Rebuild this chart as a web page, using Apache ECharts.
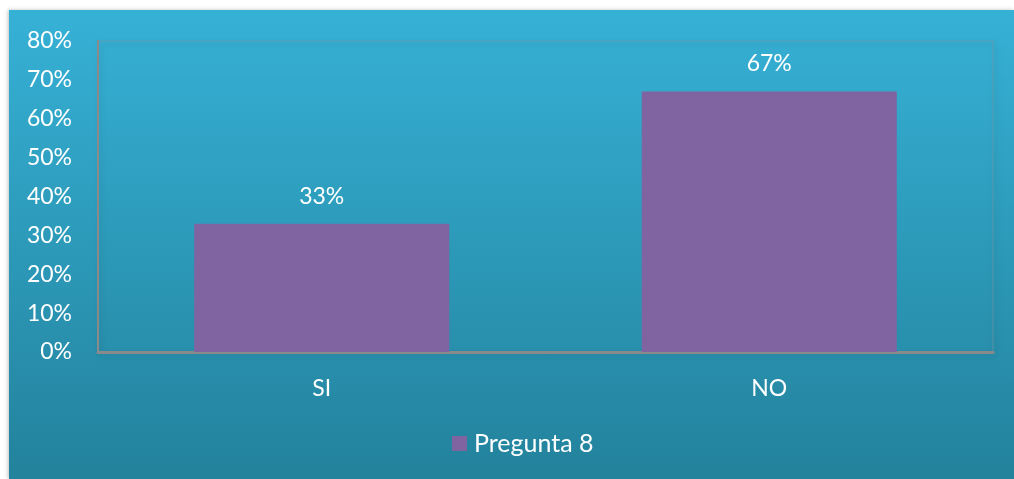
<!DOCTYPE html>
<html>
<head>
<meta charset="utf-8">
<script src="https://cdn.jsdelivr.net/npm/echarts@6/dist/echarts.min.js"></script>
<style>
html,body{margin:0;padding:0;background:#fff;}
#chart{width:1014px;height:479px;}
</style>
</head>
<body>
<div id="chart"></div>
<script>
var categories = ['SI', 'NO'];
var seriesName = 'Pregunta 8';
var values = [33, 67];
var yTicks = [0, 10, 20, 30, 40, 50, 60, 70, 80];

var chart = echarts.init(document.getElementById('chart'));
var font = 'Lato, "Open Sans", sans-serif';

var option = {
    animation: false,
    textStyle: {fontFamily: font},
    graphic: [{
        type: 'rect',
        z: -10,
        shape: {x: 9, y: 10, width: 1005, height: 469},
        style: {
            fill: new echarts.graphic.LinearGradient(0, 0, 0, 1, [
                {offset: 0, color: '#36b1d6'},
                {offset: 1, color: '#23829c'}
            ]),
            shadowBlur: 4,
            shadowColor: 'rgba(0,0,0,0.25)',
            shadowOffsetX: -1
        }
    }],
    grid: {
        left: 98, top: 41, right: 21, bottom: 127,
        show: true,
        borderColor: 'rgba(120,150,165,0.6)',
        borderWidth: 1,
        backgroundColor: 'rgba(0,0,0,0)',
        shadowBlur: 6,
        shadowColor: 'rgba(0,0,0,0.35)',
        shadowOffsetX: 2,
        shadowOffsetY: 3
    },
    legend: {
        bottom: 23,
        left: 452,
        padding: 0,
        itemWidth: 15,
        itemHeight: 15,
        itemGap: 6,
        icon: 'rect',
        textStyle: {color: '#fff', fontSize: 25, fontFamily: font, padding: [0, 0, 0, 2]},
        data: [seriesName]
    },
    xAxis: {
        type: 'category',
        data: categories,
        axisLine: {lineStyle: {color: '#8a8a8a', width: 3}},
        axisTick: {show: false},
        axisLabel: {color: '#fff', fontSize: 23, margin: 25, fontFamily: font}
    },
    yAxis: {
        type: 'value',
        min: yTicks[0],
        max: yTicks[yTicks.length - 1],
        interval: 10,
        splitLine: {show: false},
        axisLine: {show: true, lineStyle: {color: '#8a8a8a', width: 2}},
        axisTick: {show: false},
        axisLabel: {
            color: '#fff', fontSize: 23, margin: 26, fontFamily: font,
            formatter: function (v) { return v + '%'; }
        }
    },
    series: [{
        name: seriesName,
        type: 'bar',
        data: values,
        barWidth: '57%',
        itemStyle: {color: '#8064a2'},
        label: {
            show: true,
            position: 'top',
            distance: 16,
            color: '#fff',
            fontSize: 23,
            fontFamily: font,
            formatter: '{c}%'
        }
    }]
};
chart.setOption(option);
</script>
</body>
</html>
